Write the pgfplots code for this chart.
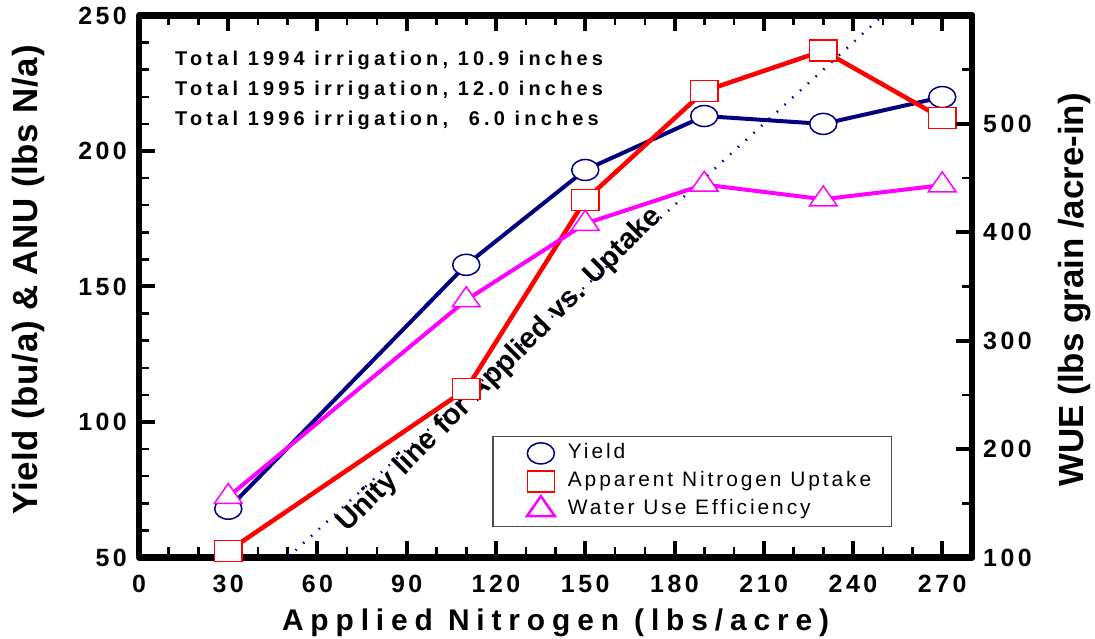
\documentclass[border=0pt]{standalone}
\usepackage{fontspec}
\setmainfont{Liberation Sans}
\newfontfamily\tickfont[LetterSpace=14]{Liberation Sans}
\newfontfamily\xlabfont[LetterSpace=23]{Liberation Sans}
\newfontfamily\annfont[LetterSpace=21]{Liberation Sans}
\newfontfamily\legfont[LetterSpace=14]{Liberation Sans}
\newfontfamily\ylabfont[LetterSpace=2]{Liberation Sans}
\usepackage{pgfplots}
\pgfplotsset{compat=1.18}
\definecolor{navyb}{RGB}{0,0,128}
\definecolor{redb}{RGB}{255,0,0}
\definecolor{magb}{RGB}{255,0,255}
\newcommand\tickfnt{\tickfont\bfseries\fontsize{25}{25}\selectfont}
\pgfplotsset{
  common/.style={
    scale only axis, width=833bp, height=542bp,
    at={(0,0)}, anchor=south west,
    xmin=0, xmax=280,
    tick align=inside,
    axis line style={line width=6.5bp, line join=round, line cap=round},
    major tick length=16bp, minor tick length=10bp,
    every major tick/.style={line width=4bp, black},
    every minor tick/.style={line width=2.5bp, black},
    /pgf/number format/assume math mode=true,
    ticklabel style={font=\tickfnt, inner sep=0bp},
  }
}
\begin{document}
\begin{tikzpicture}
\useasboundingbox (-139bp,-81.5bp) rectangle (956bp,557.5bp);
\begin{axis}[common,
  ymin=50, ymax=250,
  xtick={0,30,...,270}, minor xtick={10,20,40,50,70,80,100,110,130,140,160,170,190,200,220,230,250,260},
  ytick={50,100,...,250}, minor ytick={60,70,80,90,110,120,130,140,160,170,180,190,210,220,230,240},
  xtick pos=both, ytick pos=left,
  xticklabel pos=lower,
  xticklabel style={anchor=north, yshift=-17.5bp},
  yticklabel style={anchor=east, xshift=-12bp},
  xlabel={Applied Nitrogen (lbs/acre)},
  xlabel style={font=\xlabfont\bfseries\fontsize{30}{30}\selectfont, at={(axis description cs:0.5,0)}, anchor=base, yshift=-72.5bp},
  ylabel={Yield (bu/a) \& ANU (lbs N/a)},
  ylabel style={font=\ylabfont\bfseries\fontsize{35}{35}\selectfont, at={(axis description cs:-0.1327,0.512)}, anchor=center},
  clip=false,
]
\addplot[navyb, line width=2.5bp, dash pattern=on 1.5bp off 9bp] coordinates {(50,50) (250,250)};
\addplot[navyb, line width=4bp, mark=*, mark size=10.5bp,
  mark options={solid, fill=white, draw=navyb, line width=1.5bp, xscale=1.29}]
  coordinates {(30,68) (110,158) (150,193) (190,212.9) (230,210) (270,219.9)};
\addplot[redb, line width=4.5bp, mark=square*, mark size=10.5bp,
  mark options={solid, fill=white, draw=redb, line width=1.5bp, xscale=1.29}]
  coordinates {(30,52.4) (110,112.1) (150,181.9) (190,222.1) (230,237) (270,212.1)};
\node[anchor=base west, font=\annfont\bfseries\fontsize{20}{20}\selectfont] at (axis cs:11,231.4) {Total 1994 irrigation, 10.9 inches};
\node[anchor=base west, font=\annfont\bfseries\fontsize{20}{20}\selectfont] at (axis cs:11,220.4) {Total 1995 irrigation, 12.0 inches};
\node[anchor=base west, font=\annfont\bfseries\fontsize{20}{20}\selectfont] at (axis cs:11,209.4) {Total 1996 irrigation, \phantom{1}6.0 inches};
\node[rotate=45, anchor=base west, font=\bfseries\fontsize{29}{29}\selectfont, inner sep=0bp] at (axis cs:70,59) {Unity line for Applied vs. Uptake};
\end{axis}
\begin{axis}[common,
  ymin=100, ymax=600,
  axis x line=none, axis y line*=right,
  ytick={100,200,...,500}, minor ytick={150,250,350,450,550},
  yticklabel style={anchor=west, xshift=11bp},
  ylabel={WUE (lbs grain /acre-in)},
  ylabel style={font=\bfseries\fontsize{35}{35}\selectfont, at={(axis description cs:1.1237,0.494)}, anchor=center, rotate=0},
  legend style={at={(rel axis cs:0.904,0.056)}, anchor=south east, draw=black!70, line width=1.5bp,
    font=\legfont\fontsize{21}{21}\selectfont, inner xsep=0bp, inner ysep=3bp, row sep=0bp,
    nodes={text height=15bp, text depth=5bp, inner ysep=4bp, inner xsep=8bp}},
  legend cell align=left,
  legend image code/.code={\path[draw=none] (0bp,0bp) -- (67bp,0bp); \draw[#1] plot coordinates {(48bp,0bp)};},
  clip=false,
]
\addlegendimage{only marks, mark=*, mark size=10.5bp, mark options={fill=white, draw=navyb, line width=1.5bp, xscale=1.29}}
\addlegendentry{Yield}
\addlegendimage{only marks, mark=square*, mark size=10.5bp, mark options={fill=white, draw=redb, line width=1.5bp, xscale=1.29}}
\addlegendentry{Apparent Nitrogen Uptake\kern 12bp}
\addlegendimage{only marks, mark=triangle*, mark size=16bp, mark options={fill=white, draw=magb, line width=2.5bp, yscale=0.83}}
\addlegendentry{Water Use Efficiency}
\addplot[magb, line width=4bp, mark=triangle*, mark size=16bp,
  mark options={solid, fill=white, draw=magb, line width=1.5bp, yscale=0.83}, forget plot]
  coordinates {(30,156) (110,337.5) (150,408) (190,444) (230,430.5) (270,443.5)};
\end{axis}
\end{tikzpicture}
\end{document}
